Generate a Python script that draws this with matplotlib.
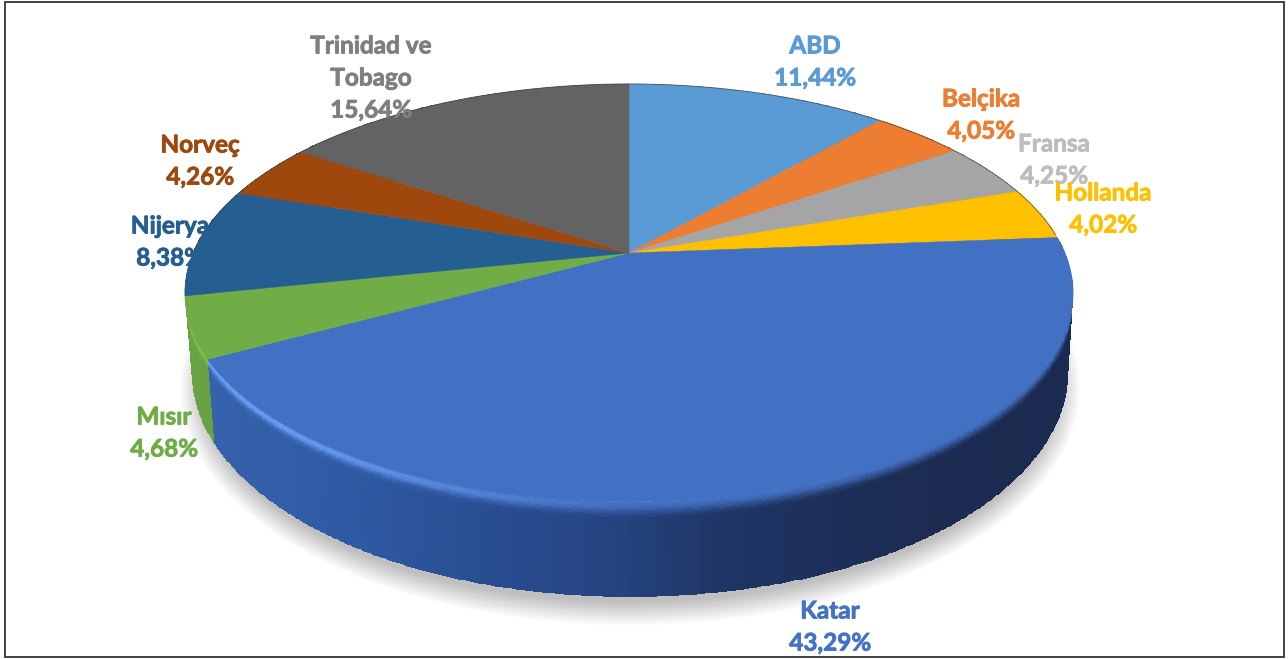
import numpy as np
import matplotlib
matplotlib.use('Agg')
import matplotlib.pyplot as plt
import matplotlib.patheffects as pe
from matplotlib.colors import to_rgb
from matplotlib.patches import Ellipse, Rectangle

plt.rcParams['font.family'] = ['Lato', 'DejaVu Sans']

countries = ['ABD', 'Belçika', 'Fransa', 'Hollanda', 'Katar', 'Mısır', 'Nijerya', 'Norveç', 'Trinidad ve\nTobago']
shares = [11.44, 4.05, 4.25, 4.02, 43.29, 4.68, 8.38, 4.26, 15.64]

colors = ['#5b9bd5', '#ed7d31', '#a5a5a5', '#ffc000', '#4270c2', '#70ad47', '#255e91', '#9e480e', '#636363']
label_colors = ['#5b9bd5', '#ed7d31', '#bdbdbd', '#ffc000', '#4472c4', '#70ad47', '#255e91', '#9e480e', '#7f7f7f']
label_pos = [(815, 62), (981, 115), (1054, 160), (1103, 209), (830, 627), (164, 433), (170, 242), (200, 161), (371, 78)]

# pie geometry in pixels, perspective so the apex sits above the ellipse centre
apex = (629, 253)
k = 0.191
big_x, big_y = 436.0, 201.3


def rim(t):
    # t = clockwise angle from 12 o'clock
    u, v = np.sin(t), np.cos(t)
    d = 1 + k * v
    return apex[0] + big_x * u / d, apex[1] - big_y * v / d


def bottom_rim(t):
    x, y = rim(t)
    return 630 + (x - 629) * 438 / 444, 372 + (y - 293) * 225 / 209


def wall_color(name, x):
    # side shading, light at the left and dark to the right
    if name == 'Katar':
        xs = [200, 350, 500, 620, 720, 900, 1080]
        cs = ['#3663ad', '#2f5aa3', '#294c90', '#25437f', '#1f3566', '#1c2c52', '#1b2a4f']
    else:
        base = np.array(to_rgb(colors[countries.index(name)]))
        xs = [180, 1080]
        cs = [base * 0.95, base * 0.3]
    rgb = np.array([to_rgb(c) for c in cs])
    return np.stack([np.interp(x, xs, rgb[:, i]) for i in range(3)], axis=-1)


fig = plt.figure(figsize=(12.88, 6.59), dpi=100)
ax = fig.add_axes([0, 0, 1, 1])
ax.set_xlim(0, 1288)
ax.set_ylim(659, 0)
ax.axis('off')

ax.add_patch(Rectangle((5, 2), 1279, 655, fill=False, edgecolor='#333333', lw=1.3, zorder=1))

# soft shadow below the pie
for i in range(16):
    grow = 12 - i * 1.5
    ax.add_patch(Ellipse((630, 388), 2 * (438 + grow), 2 * (225 + grow), color='#000000',
                         alpha=0.016, lw=0, zorder=2))

edges = np.cumsum([0] + shares) / sum(shares) * 2 * np.pi

# side walls with a bevel blending into the top surface, back ones first
depth = np.linspace(0, 1, 41)
for i in [0, 1, 2, 3, 8, 7, 6, 5, 4]:
    name = countries[i]
    t = np.linspace(edges[i], edges[i + 1], max(int((edges[i + 1] - edges[i]) * 120), 4))
    x0, y0 = rim(t)
    x1, y1 = bottom_rim(t)
    xm = x0[:, None] + (x1 - x0)[:, None] * depth[None, :]
    ym = y0[:, None] + (y1 - y0)[:, None] * depth[None, :]
    wall = wall_color(name, (xm[:-1, :-1] + xm[1:, 1:]) / 2)
    top = np.array(to_rgb(colors[i]))
    s = np.clip(depth[:-1] / 0.17, 0, 1)
    s = (s * s * (3 - 2 * s))[None, :, None]
    shade = top * (1 - s) + wall * s
    if name in ('Katar', 'Mısır'):
        # bright edge on the left part of the rim
        bright = np.array(to_rgb('#6a9bf0' if name == 'Katar' else '#80bd4f'))
        fade = np.clip((640 - xm[:-1, :-1]) / 350, 0, 1)[:, :, None]
        band = np.exp(-((depth[:-1] - 0.03) / 0.05) ** 2)[None, :, None]
        shade = shade * (1 - band * fade) + bright * band * fade
    ax.pcolormesh(xm, ym, shade, shading='flat', zorder=3, antialiased=False, rasterized=True)

# top surface
for i in range(len(shares)):
    t = np.linspace(edges[i], edges[i + 1], 200)
    x, y = rim(t)
    ax.fill(np.r_[apex[0], x], np.r_[apex[1], y], color=colors[i], lw=0.3, zorder=4)

# thin dark rim on the back half
t = np.linspace(-np.pi / 2, np.pi * 0.47, 400)
x, y = rim(t)
ax.plot(x, y, color='#444444', lw=0.7, alpha=0.7, zorder=5)

for name, v, c, p in zip(countries, shares, label_colors, label_pos):
    pct = f'{v:.2f}'.replace('.', ',') + '%'
    ax.text(p[0], p[1], f'{name}\n{pct}', color=c, fontsize=17.5, fontweight='bold',
            ha='center', va='center', linespacing=1.48, zorder=6,
            path_effects=[pe.withStroke(linewidth=0.6, foreground=c)])

fig.savefig('out.png', dpi=100)
